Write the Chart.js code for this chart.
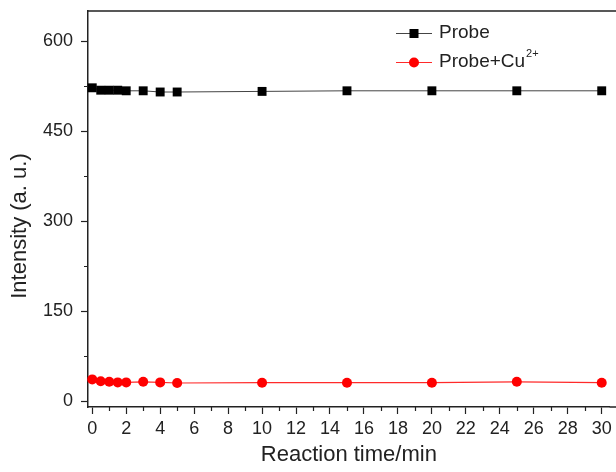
<!DOCTYPE html>
<html>
<head>
<meta charset="utf-8">
<script src="https://cdn.jsdelivr.net/npm/chart.js@4.4.0/dist/chart.umd.min.js"></script>
<style>
  html, body { margin: 0; padding: 0; background: #fff; }
  #wrap { width: 616px; height: 472px; }
</style>
</head>
<body>
<div id="wrap"><canvas id="chart" width="616" height="472"></canvas></div>
<script>
// Intensidad de fluorescencia frente al tiempo de reacción
const times = [0, 0.5, 1, 1.5, 2, 3, 4, 5, 10, 15, 20, 25, 30];
const probe = [522, 518, 518, 518, 517, 517, 515, 515, 516, 517, 517, 517, 517];
const probeCu = [36, 33, 32, 31, 31, 32, 31, 30, 30.5, 30.5, 30.5, 32, 30.5];

const xTicks = [0, 2, 4, 6, 8, 10, 12, 14, 16, 18, 20, 22, 24, 26, 28, 30];
const xMinor = [1, 3, 5, 7, 9, 11, 13, 15, 17, 19, 21, 23, 25, 27, 29];
const yTicks = [0, 150, 300, 450, 600];
const yMinor = [75, 225, 375, 525];

const ink = '#222';
const font = "'Liberation Sans', Arial, sans-serif";

// Marco superior, ticks menores, título Y y leyenda
const decor = {
    id: 'decor',
    afterDraw(chart) {
    const { ctx, chartArea: a, scales: { x, y } } = chart;
    ctx.save();
    ctx.strokeStyle = ink;
    ctx.lineWidth = 1.5;
    ctx.beginPath();
    ctx.moveTo(a.left - 0.75, a.top);
    ctx.lineTo(chart.width, a.top);
    ctx.moveTo(a.right, a.bottom);
    ctx.lineTo(chart.width, a.bottom);
    ctx.stroke();

    ctx.lineWidth = 1.2;
    ctx.beginPath();
    xMinor.forEach(v => {
        const px = Math.round(x.getPixelForValue(v)) + 0.5;
        ctx.moveTo(px, a.bottom);
        ctx.lineTo(px, a.bottom + 4);
    });
    yMinor.forEach(v => {
        const py = Math.round(y.getPixelForValue(v)) + 0.5;
        ctx.moveTo(a.left, py);
        ctx.lineTo(a.left - 4, py);
    });
    ctx.stroke();

    // título del eje Y
    ctx.fillStyle = ink;
    ctx.font = `22px ${font}`;
    ctx.textAlign = 'center';
    ctx.textBaseline = 'middle';
    ctx.save();
    ctx.translate(20, 226);
    ctx.rotate(-Math.PI / 2);
    ctx.fillText('Intensity (a. u.)', 0, 0);
    ctx.restore();

    // leyenda
    const lx = 396, lw = 36, tx = 439;
    ctx.textAlign = 'left';
    ctx.font = `19px ${font}`;

    ctx.strokeStyle = '#444';
    ctx.lineWidth = 1;
    ctx.beginPath();
    ctx.moveTo(lx, 33.5);
    ctx.lineTo(lx + lw, 33.5);
    ctx.stroke();
    ctx.fillStyle = '#000';
    ctx.fillRect(lx + lw / 2 - 4.5, 33.5 - 4.5, 9, 9);
    ctx.fillStyle = ink;
    ctx.fillText('Probe', tx, 33);

    ctx.strokeStyle = '#ff2a2a';
    ctx.beginPath();
    ctx.moveTo(lx, 62.5);
    ctx.lineTo(lx + lw, 62.5);
    ctx.stroke();
    ctx.fillStyle = '#ff0000';
    ctx.beginPath();
    ctx.arc(lx + lw / 2, 62.5, 5, 0, Math.PI * 2);
    ctx.fill();
    ctx.fillStyle = ink;
    ctx.fillText('Probe+Cu', tx, 62);
    const w = ctx.measureText('Probe+Cu').width;
    ctx.font = `11px ${font}`;
    ctx.fillText('2+', tx + w + 1, 54);
    ctx.restore();
    }
};

new Chart(document.getElementById('chart'), {
    type: 'line',
    data: {
    datasets: [{
        label: 'Probe',
        data: times.map((t, i) => ({ x: t, y: probe[i] })),
        borderColor: '#444',
        borderWidth: 1,
        pointStyle: 'rect',
        pointRadius: 6.3,
        pointBackgroundColor: '#000',
        pointBorderWidth: 0,
        clip: false
    },
    {
        label: 'Probe+Cu2+',
        data: times.map((t, i) => ({ x: t, y: probeCu[i] })),
        borderColor: '#ff2a2a',
        borderWidth: 1.2,
        pointStyle: 'circle',
        pointRadius: 5,
        pointBackgroundColor: '#ff0000',
        pointBorderWidth: 0,
        clip: false
    }
    ]
    },
    options: {
    responsive: false,
    animation: false,
    layout: { padding: { top: 11, left: 0, right: 0, bottom: 0 } },
    plugins: {
        legend: { display: false },
        tooltip: { enabled: false }
    },
    scales: {
        x: {
        type: 'linear',
        min: -0.25,
        max: 30.47,
        afterBuildTicks: s => { s.ticks = xTicks.map(v => ({ value: v })); },
        afterFit: s => { s.height = 65; s.paddingLeft = 0; s.paddingRight = 0; },
        border: { color: ink, width: 1.5 },
        grid: { drawOnChartArea: false, drawTicks: true, tickLength: 7, tickColor: ink, tickWidth: 1.2 },
        ticks: { color: ink, font: { family: font, size: 18 }, padding: 4, autoSkip: false, maxRotation: 0 },
        title: { display: true, text: 'Reaction time/min', color: ink, font: { family: font, size: 22 }, padding: { top: 0, bottom: 4 } }
        },
        y: {
        min: -10,
        max: 650,
        afterBuildTicks: s => { s.ticks = yTicks.map(v => ({ value: v })); },
        afterFit: s => { s.width = 88; s.paddingTop = 0; s.paddingBottom = 0; },
        border: { color: ink, width: 1.5 },
        grid: { drawOnChartArea: false, drawTicks: true, tickLength: 7, tickColor: ink, tickWidth: 1.2 },
        ticks: { color: ink, font: { family: font, size: 18 }, padding: 8 }
        }
    }
    },
    plugins: [decor]
});
</script>
</body>
</html>
